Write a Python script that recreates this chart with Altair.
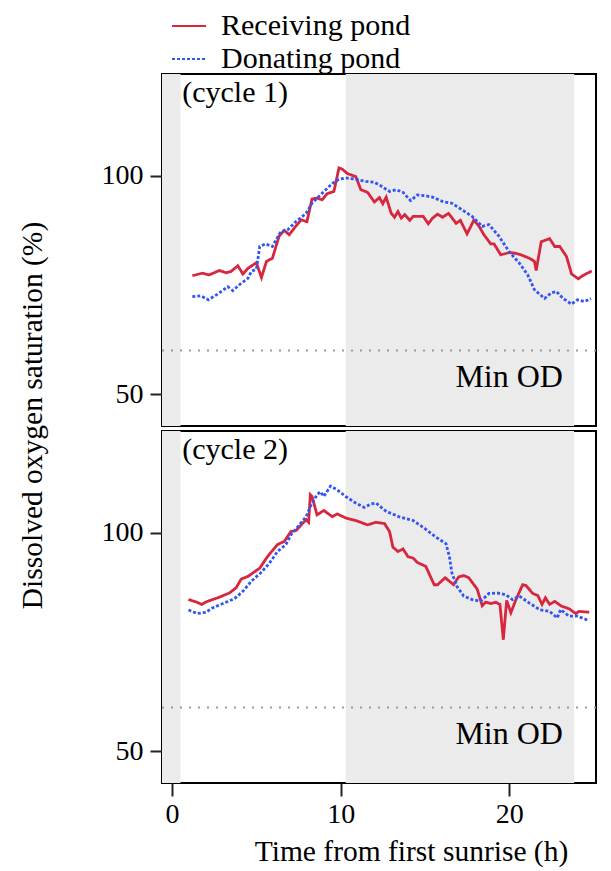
import altair as alt
import pandas as pd

FONT = "Liberation Serif"
RED = "#d7263d"
BLUE = "#3355f2"
GRAY = "#ebebeb"

ponds = ["Receiving pond", "Donating pond"]
cycle_labels = ["(cycle 1)", "(cycle 2)"]
min_od_value = [60]
min_od_label = ["Min OD"]
x_title = "Time from first sunrise (h)"
y_title = "Dissolved oxygen saturation (%)"
x_ticks = [0, 10, 20]
y_ticks = [50, 100]
night_start = [-1.0, 10.3]
night_end = [0.5, 23.85]

# cycle 1
t_rec1 = [1.2, 1.8, 2.2, 2.8, 3.2, 3.5, 3.9, 4.2, 4.5, 5.0, 5.3, 5.6, 5.95, 6.35, 6.65,
          6.95, 7.35, 7.65, 8.0, 8.3, 8.6, 8.9, 9.2, 9.6, 9.9, 10.1, 10.4, 10.9, 11.2, 11.6,
          12.0, 12.3, 12.5, 12.7, 13.0, 13.2, 13.4, 13.6, 13.8, 14.1, 14.3, 14.9, 15.2, 15.45, 15.75,
          16.05, 16.4, 16.85, 17.1, 17.5, 17.9, 18.2, 18.5, 18.9, 19.1, 19.5, 20.0, 20.3, 20.7, 21.2,
          21.5, 21.6, 21.9, 22.4, 22.7, 23.0, 23.4, 23.7, 24.1, 24.35, 24.9]
v_rec1 = [77.1, 77.7, 77.3, 78.3, 77.8, 78.1, 79.4, 77.5, 78.8, 80.1, 76.7, 80.4, 81.1, 86.2, 87.5,
          86.5, 88.5, 89.9, 89.5, 94.7, 94.9, 94.5, 95.9, 96.4, 101.8, 101.5, 100.5, 99.8, 96.8, 96.2,
          94.0, 95.0, 93.6, 95.1, 91.4, 90.5, 91.8, 90.3, 91.1, 89.8, 90.7, 90.7, 89.0, 90.3, 91.2,
          90.5, 91.4, 89.1, 89.8, 86.7, 89.8, 88.5, 86.5, 84.4, 84.4, 81.9, 82.4, 82.3, 81.9, 81.1,
          80.4, 78.3, 84.9, 85.6, 83.8, 83.8, 81.5, 77.5, 76.4, 77.1, 78.2]
t_don1 = [1.2, 1.7, 2.15, 2.7, 3.3, 3.6, 4.1, 4.5, 4.7, 5.0, 5.2, 5.55, 5.95, 6.45, 6.85,
          7.35, 7.95, 8.3, 8.9, 9.5, 9.9, 10.3, 10.9, 11.5, 12.0, 12.3, 12.9, 13.3, 13.7, 14.15,
          14.55, 15.05, 15.45, 16.05, 16.6, 17.2, 17.8, 18.4, 18.8, 19.4, 20.0, 20.6, 21.1, 21.5, 22.1,
          22.5, 22.8, 23.2, 23.7, 24.05, 24.45, 24.85]
v_don1 = [72.3, 72.5, 71.6, 72.9, 74.6, 73.7, 75.4, 76.5, 78.1, 78.6, 83.8, 84.4, 83.8, 87.2, 87.6,
          89.5, 91.4, 93.7, 96.0, 98.2, 99.2, 99.5, 99.2, 98.7, 98.5, 97.9, 96.4, 96.8, 96.2, 94.3,
          95.6, 95.4, 95.1, 94.1, 93.7, 92.2, 90.7, 88.4, 88.8, 86.1, 82.6, 80.0, 77.3, 73.9, 71.9,
          73.2, 73.5, 71.9, 70.6, 71.6, 71.2, 71.9]

# cycle 2
t_rec2 = [0.97, 1.4, 1.75, 2.1, 2.7, 3.4, 3.8, 4.1, 4.5, 5.2, 5.65, 6.25, 6.65, 7.05, 7.35,
          7.95, 8.1, 8.2, 8.3, 8.6, 9.0, 9.5, 9.8, 10.3, 10.9, 11.6, 12.1, 12.6, 12.9, 13.1,
          13.4, 13.7, 14.0, 14.3, 14.55, 15.05, 15.55, 15.75, 16.2, 16.7, 17.0, 17.3, 17.6, 18.1, 18.4,
          18.6, 18.9, 19.2, 19.45, 19.65, 19.85, 20.1, 20.4, 20.8, 21.0, 21.4, 21.7, 21.95, 22.15, 22.4,
          22.7, 23.1, 23.55, 23.95, 24.15, 24.75]
v_rec2 = [84.7, 84.2, 83.6, 84.3, 85.1, 86.2, 87.4, 89.4, 90.0, 91.9, 94.5, 97.3, 98.0, 100.3, 100.5,
          103.0, 102.4, 108.7, 108.3, 104.1, 105.1, 103.7, 104.3, 103.4, 102.8, 101.8, 102.4, 102.1, 100.3, 96.7,
          95.7, 96.3, 94.5, 94.2, 93.2, 92.3, 88.1, 88.1, 89.7, 88.1, 89.9, 90.2, 89.7, 87.1, 83.3,
          84.1, 83.8, 84.1, 83.6, 75.5, 84.5, 81.7, 84.7, 88.1, 87.9, 86.1, 85.6, 83.6, 85.1, 83.6,
          84.3, 83.2, 82.6, 81.5, 82.0, 81.8]
t_don2 = [0.97, 1.5, 2.0, 2.4, 3.2, 3.7, 4.2, 4.7, 5.25, 5.75, 6.25, 6.75, 7.05, 7.55, 7.95,
          8.25, 8.6, 8.8, 9.0, 9.4, 9.8, 10.3, 10.9, 11.4, 11.8, 12.1, 12.7, 13.5, 14.3, 14.95,
          15.65, 16.25, 16.45, 16.6, 16.9, 17.3, 17.8, 18.3, 18.8, 19.3, 19.8, 20.2, 20.6, 21.2, 21.8,
          22.4, 22.85, 23.05, 23.55, 24.05, 24.65]
v_don2 = [82.3, 81.5, 81.8, 82.8, 84.1, 84.9, 86.6, 88.9, 90.8, 92.9, 95.7, 97.3, 99.5, 101.8, 103.7,
          106.4, 108.7, 109.4, 108.3, 110.7, 109.8, 108.3, 106.8, 105.8, 106.6, 106.8, 104.9, 103.6, 102.8, 101.1,
          99.0, 97.5, 94.6, 90.8, 87.7, 85.5, 84.7, 84.3, 86.1, 86.2, 85.8, 84.7, 85.5, 83.9, 82.4,
          82.0, 80.5, 82.4, 80.9, 80.9, 80.0]


def series(t, v, pond, cycle):
    return pd.DataFrame({"t": t, "sat": v, "pond": pond, "cycle": cycle})


df = pd.concat([
    series(t_rec1, v_rec1, ponds[0], 1),
    series(t_don1, v_don1, ponds[1], 1),
    series(t_rec2, v_rec2, ponds[0], 2),
    series(t_don2, v_don2, ponds[1], 2),
], ignore_index=True)
night_df = pd.DataFrame({"t": night_start, "end": night_end})
od_df = pd.DataFrame({"sat": min_od_value})
od_text_df = pd.DataFrame({"t": [20], "sat": [54], "label": min_od_label})

W, H = 434, 352
xscale = alt.Scale(domain=[-0.6, 25.15], nice=False, zero=False)
yscale = alt.Scale(domain=[42.7, 123.3], nice=False, zero=False)

legend = alt.Legend(orient="none", legendX=9, legendY=-66, title=None,
                    symbolType="stroke", symbolSize=1156, symbolStrokeWidth=2,
                    labelFont=FONT, labelFontSize=30, labelColor="black", labelLimit=0,
                    labelOffset=14, padding=0, rowPadding=-2)


def panel(cycle, top):
    d = df[df["cycle"] == cycle]
    cyc_df = pd.DataFrame({"t": [0.6], "sat": [119], "label": [cycle_labels[cycle - 1]]})
    if top:
        xaxis = None
        yaxis = alt.Axis(values=y_ticks, title=y_title, titleX=-130, titleY=341,
                         titleAngle=270, titleAlign="center", titleBaseline="middle")
    else:
        xaxis = alt.Axis(values=x_ticks, title=x_title, titleX=249, titleY=77,
                         titleBaseline="alphabetic", titleAlign="center")
        yaxis = alt.Axis(values=y_ticks, title=None)
    X = alt.X("t:Q", scale=xscale, axis=xaxis)
    Y = alt.Y("sat:Q", scale=yscale, axis=yaxis)
    night = alt.Chart(night_df).mark_rect(color=GRAY, clip=True).encode(
        x=X, x2="end:Q", y=alt.value(0), y2=alt.value(H),
    )
    rule = alt.Chart(od_df).mark_rule(color="#999999", strokeWidth=2, strokeDash=[2, 7]).encode(
        y=Y
    )
    od_text = alt.Chart(od_text_df).mark_text(font=FONT, fontSize=32, color="black",
                                            align="center", baseline="middle").encode(
        x=X, y=Y, text="label:N",
    )
    cyc_text = alt.Chart(cyc_df).mark_text(font=FONT, fontSize=30, color="black",
                                         align="left", baseline="middle").encode(
        x=X, y=Y, text="label:N",
    )
    lines = alt.Chart(d).mark_line(strokeWidth=2.8, clip=True).encode(
        x=X, y=Y,
        color=alt.Color("pond:N", sort=ponds,
                        scale=alt.Scale(domain=ponds, range=[RED, BLUE]), legend=legend),
        strokeDash=alt.StrokeDash("pond:N", sort=ponds,
                                  scale=alt.Scale(domain=ponds, range=[[1, 0], [3, 2]]),
                                  legend=legend),
    )
    return alt.layer(night, rule, od_text, cyc_text, lines).properties(width=W, height=H)


top = panel(1, True)
bottom = panel(2, False)

chart = alt.vconcat(top, bottom, spacing=5, bounds="flush").configure_view(
    stroke="black", strokeWidth=2
).configure_axis(
    labelFont=FONT, titleFont=FONT, labelFontSize=28, titleFontSize=29.5,
    labelColor="black", titleColor="black", titleFontWeight="normal",
    tickColor="#222222", tickWidth=2, tickSize=12, labelPadding=7,
    domain=False, grid=False,
).configure_axisX(labelPadding=4, tickSize=13).properties(
    padding={"left": 8, "top": 0, "right": 5, "bottom": 5}
)

chart.save("out.html", embed_options={"renderer": "svg", "actions": False})
